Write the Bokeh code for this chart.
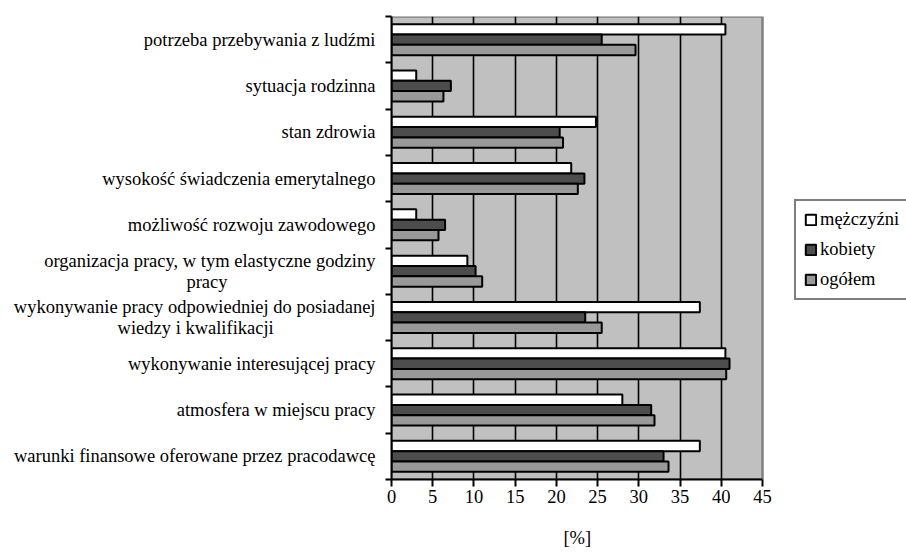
from bokeh.plotting import figure
from bokeh.models import (ColumnDataSource, Range1d, FixedTicker, Legend, LegendItem, BoxAnnotation)
from bokeh.transform import dodge
from bokeh.embed import file_html
from bokeh.resources import INLINE

NB = "\u00a0"
# categories listed top-to-bottom as shown
categories = [
    "potrzeba przebywania z ludźmi",
    "sytuacja rodzinna",
    "stan zdrowia",
    "wysokość świadczenia emerytalnego",
    "możliwość rozwoju zawodowego",
    "organizacja pracy, w tym elastyczne godziny\npracy" + NB * 32,
    "wykonywanie pracy odpowiedniej do posiadanej\nwiedzy i kwalifikacji" + NB * 22,
    "wykonywanie interesującej pracy",
    "atmosfera w miejscu pracy",
    "warunki finansowe oferowane przez pracodawcę",
]
mezczyzni = [40.5, 3.0, 24.8, 21.8, 3.0, 9.2, 37.4, 40.5, 28.0, 37.4]
kobiety = [25.5, 7.2, 20.4, 23.4, 6.5, 10.2, 23.5, 41.0, 31.5, 33.0]
ogolem = [29.6, 6.3, 20.8, 22.6, 5.7, 11.0, 25.5, 40.6, 31.9, 33.6]
series_names = ["mężczyźni", "kobiety", "ogółem"]
x_ticks = [0, 5, 10, 15, 20, 25, 30, 35, 40, 45]
x_title = "[%]"

FONT = "Liberation Serif"
FS = "18.5px"

W, H = 906, 554
LEFT, TOP, BOTTOM = 391, 16, 75
AXIS_PX = 371                      # pixel length of the 0..45 axis
frame_w = W - LEFT
X_MAX = x_ticks[-1]
x_end = X_MAX * frame_w / AXIS_PX  # frame extends right to host the legend

n = len(categories)
ypos = [n - i - 0.5 for i in range(n)]
src = ColumnDataSource(dict(y=ypos, m=mezczyzni, k=kobiety, o=ogolem))

p = figure(width=W, height=H, output_backend="svg", toolbar_location=None,
           x_range=Range1d(0, x_end), y_range=Range1d(0, n),
           min_border_left=LEFT, min_border_right=0, min_border_top=TOP,
           min_border_bottom=BOTTOM)
p.background_fill_color = "white"
p.border_fill_color = "white"
p.outline_line_color = None

bg = BoxAnnotation(left=0, right=X_MAX, bottom=0, top=n, fill_color="#C0C0C0",
                   fill_alpha=1, line_color="#808080", line_width=2.5, line_alpha=1,
                   level="image")
p.add_layout(bg)

bh = 0.223
r_m = p.hbar(y=dodge("y", bh, range=p.y_range), right="m", left=0, height=bh, source=src,
             fill_color="#FFFFFF", line_color="black", line_width=2)
r_k = p.hbar(y=dodge("y", 0, range=p.y_range), right="k", left=0, height=bh, source=src,
             fill_color="#4D4D4D", line_color="black", line_width=2)
r_o = p.hbar(y=dodge("y", -bh, range=p.y_range), right="o", left=0, height=bh, source=src,
             fill_color="#999999", line_color="black", line_width=2)

# grid
p.ygrid.grid_line_color = None
p.xgrid.ticker = FixedTicker(ticks=x_ticks[1:-1])
p.xgrid.grid_line_color = "black"
p.xgrid.grid_line_width = 1.6

# x axis
p.xaxis.ticker = FixedTicker(ticks=x_ticks)
p.xaxis.bounds = (0, X_MAX)
p.xaxis.axis_line_width = 2
p.xaxis.axis_line_color = "black"
p.xaxis.major_tick_line_width = 2
p.xaxis.major_tick_in = 0
p.xaxis.major_tick_out = 7
p.xaxis.minor_tick_line_color = None
p.xaxis.major_label_text_font = FONT
p.xaxis.major_label_text_font_size = FS
p.xaxis.major_label_text_color = "black"
p.xaxis.major_label_standoff = 3
# axis title centred under the 0..45 span (frame is wider, so pad on the right)
p.xaxis.axis_label = x_title + NB * 31
p.xaxis.axis_label_text_font = FONT
p.xaxis.axis_label_text_font_size = FS
p.xaxis.axis_label_text_font_style = "normal"
p.xaxis.axis_label_text_color = "black"
p.xaxis.axis_label_standoff = 22

# y axis
p.yaxis.ticker = FixedTicker(ticks=ypos, minor_ticks=list(range(n + 1)))
p.yaxis.major_label_overrides = {y: c for y, c in zip(ypos, categories)}
p.yaxis.axis_line_width = 2
p.yaxis.axis_line_color = "black"
p.yaxis.major_tick_line_color = None
p.yaxis.major_tick_out = 0
p.yaxis.major_tick_in = 0
p.yaxis.minor_tick_line_color = "black"
p.yaxis.minor_tick_line_width = 2
p.yaxis.minor_tick_in = 0
p.yaxis.minor_tick_out = 6
p.yaxis.major_label_text_font = FONT
p.yaxis.major_label_text_font_size = FS
p.yaxis.major_label_text_color = "black"
p.yaxis.major_label_text_line_height = 1.04
p.yaxis.major_label_standoff = 10

legend = Legend(items=[LegendItem(label=series_names[0], renderers=[r_m]),
                       LegendItem(label=series_names[1], renderers=[r_k]),
                       LegendItem(label=series_names[2], renderers=[r_o])],
                location=(403, 179))
legend.border_line_color = "black"
legend.border_line_width = 2
legend.background_fill_color = "white"
legend.background_fill_alpha = 1
legend.label_text_font = FONT
legend.label_text_font_size = FS
legend.label_text_color = "black"
legend.glyph_width = 13
legend.glyph_height = 13
legend.label_height = 20
legend.label_standoff = 3
legend.spacing = 9
legend.padding = 8
legend.margin = 0
p.add_layout(legend)

open("out.html", "w").write(file_html(p, INLINE))
